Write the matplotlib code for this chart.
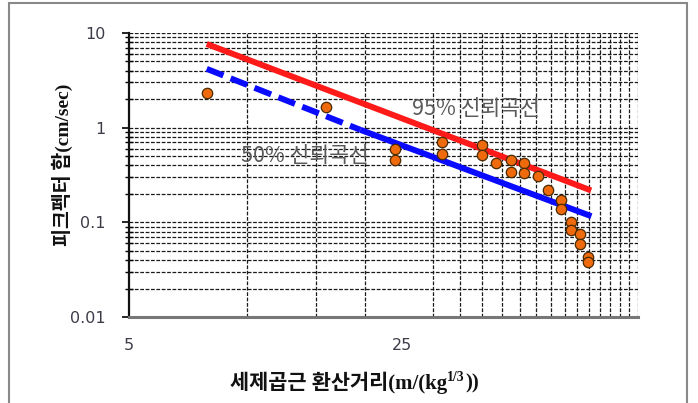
import matplotlib
matplotlib.use('Agg')
import matplotlib.pyplot as plt
from matplotlib.ticker import FixedLocator, FixedFormatter, NullFormatter
from matplotlib.patches import Rectangle

# scaled distance vs peak particle velocity
dist = [7.9, 15.9, 23.9, 23.9, 31.5, 31.5, 40.0, 40.0, 43.4, 47.4, 47.4,
        51.2, 51.2, 55.6, 58.9, 63.7, 63.7, 67.5, 67.5, 71.2, 71.2, 74.5, 74.5]
ppv = [2.34, 1.66, 0.60, 0.46, 0.71, 0.53, 0.65, 0.51, 0.42, 0.45, 0.34,
       0.42, 0.33, 0.31, 0.217, 0.174, 0.137, 0.100, 0.084, 0.075, 0.059, 0.043, 0.038]

# 95% curve
r_x = [7.9, 75.9]
r_y = [7.66, 0.217]
# 50% curve (dashed part, then solid part)
b_x = [7.9, 19.5, 76.0]
b_y = [4.18, 0.95, 0.116]

x_ticks = [5, 25]
x_grid = [10, 15, 20, 30, 35, 40, 45, 50, 55, 60, 65, 70, 75, 80, 85, 90, 95, 100]
y_ticks = [0.01, 0.1, 1, 10]
y_labels = ['0.01', '0.1', '1', '10']

W, H = 698, 403
fig = plt.figure(figsize=(W / 100, H / 100), dpi=100)
ax = fig.add_axes([129 / W, 1 - 317 / H, (638 - 129) / W, (317 - 33) / H])

ax.set_xscale('log')
ax.set_yscale('log')
ax.set_xlim(5, 100)
ax.set_ylim(0.01, 10)

grid_kw = dict(color='#1a1a1a', linewidth=0.9, linestyle=(0, (3, 1.3)))

# x axis ticks / grid
ax.xaxis.set_major_locator(FixedLocator(x_ticks))
ax.xaxis.set_major_formatter(FixedFormatter([str(v) for v in x_ticks]))
ax.xaxis.set_minor_locator(FixedLocator(x_grid))
ax.xaxis.set_minor_formatter(NullFormatter())
ax.tick_params(axis='x', which='both', length=0, pad=15, labelsize=11.5, labelcolor='#3c3c48')
ax.grid(True, axis='x', which='minor', **grid_kw)

# y axis ticks / grid
y_minor = []
for dec in [0.01, 0.1, 1]:
    for m in range(2, 10):
        y_minor.append(dec * m)
ax.yaxis.set_major_locator(FixedLocator(y_ticks))
ax.yaxis.set_major_formatter(FixedFormatter(y_labels))
ax.yaxis.set_minor_locator(FixedLocator(y_minor))
ax.yaxis.set_minor_formatter(NullFormatter())
ax.tick_params(axis='y', which='major', direction='out', length=5, width=1.2, pad=12,
               labelsize=11.5, labelcolor='#3c3c48')
ax.tick_params(axis='y', which='minor', direction='inout', length=6, width=1)
ax.grid(True, axis='y', which='both', **grid_kw)

ax.spines['top'].set_visible(False)
ax.spines['right'].set_visible(False)
ax.spines['left'].set_linewidth(1.6)
ax.spines['left'].set_color('#111111')
ax.spines['bottom'].set_linewidth(2.2)
ax.spines['bottom'].set_color('#777777')

# curves
ax.plot(r_x, r_y, color='#ff1a1a', linewidth=4.3, solid_capstyle='butt', zorder=3)
ax.plot(b_x[:2], b_y[:2], color='#0a0aff', linewidth=4.3, dashes=(3, 1.3), zorder=3)
ax.plot(b_x[1:], b_y[1:], color='#0a0aff', linewidth=4.3, solid_capstyle='butt', zorder=3)

# data points
ax.plot(dist, ppv, linestyle='none', marker='o', markersize=7.5,
        markerfacecolor='#ee6a0c', markeredgecolor='#4a2a00', markeredgewidth=0.9,
        zorder=4, clip_on=False)

kfont = ['Noto Sans CJK KR', 'DejaVu Sans']
ax.text(38.5, 1.585, '95% 신뢰곡선', family=kfont, fontsize=15.5, color='#5a5a5a',
        ha='center', va='center', zorder=5)
ax.text(14.05, 0.507, '50% 신뢰곡선', family=kfont, fontsize=15.5, color='#5a5a5a',
        ha='center', va='center', zorder=5)

# axis titles (Korean in gothic, Latin in serif)
lab_font = ['Liberation Serif', 'Noto Sans CJK KR']
renderer = fig.canvas.get_renderer()

t1 = fig.text(230 / W, 1 - 383 / H, '세제곱근 환산거리(m/(kg', family=lab_font,
              fontsize=15, fontweight='bold', ha='left', va='center', color='#111111')
bb = t1.get_window_extent(renderer)
t2 = fig.text(bb.x1 / W, (bb.y0 + bb.height * 0.6) / H, '1/3', family='Liberation Serif',
              fontsize=10, fontweight='bold', ha='left', va='baseline', color='#111111')
bb2 = t2.get_window_extent(renderer)
fig.text(bb2.x1 / W, 1 - 383 / H, '))', family='Liberation Serif', fontsize=15,
         fontweight='bold', ha='left', va='center', color='#111111')

fig.text(62 / W, 1 - 246 / H, '피크펙터 합(cm/sec)', family=lab_font, fontsize=14,
         fontweight='bold', rotation=90, ha='center', va='bottom', color='#111111')

# outer frame
fig.patches.append(Rectangle((9 / W, -0.05), (687 - 9) / W, 1.05 - 3 / H,
                             transform=fig.transFigure, fill=False,
                             edgecolor='#888888', linewidth=1.5))

fig.savefig('out.png', dpi=100)
